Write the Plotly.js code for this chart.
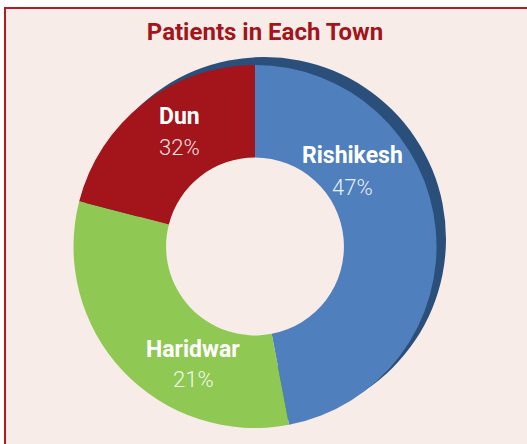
<!DOCTYPE html>
<html>
<head>
<meta charset="utf-8">
<script src="https://cdn.plot.ly/plotly-3.0.1.min.js"></script>
<style>
  html, body { margin: 0; padding: 0; background: #ffffff; }
  #chart { width: 527px; height: 444px; }
</style>
</head>
<body>
<div id="chart"></div>
<script>
// ---- Data ----
const towns = ['Rishikesh', 'Haridwar', 'Dun'];
// slice sizes as drawn in the picture (percent of the ring)
const sliceShare = [47, 32, 21];
// percentages printed on the chart
const printedPct = ['47%', '21%', '32%'];
const sliceColors = ['#4f80bd', '#8fc953', '#a3141b'];
const shadowShare = [100];

// ---- helpers (pixel -> paper, margins are zero) ----
const W = 527, H = 444;
const px = x => x / W;
const py = y => 1 - y / H;

// label anchor points in pixels for each town (name / percentage)
const labelPos = {
  'Rishikesh': [352, 156, 187],
  'Haridwar':  [193, 349, 379],
  'Dun':       [179, 117, 147]
};

const shadow = {
  type: 'pie',
  values: shadowShare,
  labels: ['shadow'],
  marker: { colors: ['#2b4f7b'], line: { width: 0 } },
  hole: 0.7,
  sort: false,
  textinfo: 'none',
  hoverinfo: 'skip',
  showlegend: false,
  domain: { x: [px(82), px(446)], y: [py(421), py(57)] }
};

const donut = {
  type: 'pie',
  values: sliceShare,
  labels: towns,
  customdata: printedPct,
  marker: { colors: sliceColors, line: { width: 0 } },
  hole: 0.49,
  sort: false,
  direction: 'clockwise',
  rotation: 0,
  textinfo: 'none',
  hovertemplate: '%{label}: %{customdata}<extra></extra>',
  showlegend: false,
  domain: { x: [px(73), px(437)], y: [py(428), py(65)] }
};

const annotations = [];
towns.forEach((t, i) => {
  const p = labelPos[t];
  annotations.push({
    xref: 'paper', yref: 'paper', x: px(p[0]), y: py(p[1]),
    xanchor: 'center', yanchor: 'middle', showarrow: false,
    text: '<b>' + t + '</b>',
    font: { family: 'Roboto, sans-serif', size: 23, color: '#ffffff' }
  });
  annotations.push({
    xref: 'paper', yref: 'paper', x: px(p[0]), y: py(p[2]),
    xanchor: 'center', yanchor: 'middle', showarrow: false,
    text: printedPct[i],
    font: { family: 'Roboto, sans-serif', size: 22, weight: 300, color: 'rgba(255,255,255,0.9)' }
  });
});

const layout = {
  width: W, height: H,
  margin: { l: 0, r: 0, t: 0, b: 0 },
  paper_bgcolor: '#ffffff',
  showlegend: false,
  title: {
    text: '<b>Patients in Each Town</b>',
    font: { family: 'Roboto, sans-serif', size: 24, color: '#a3141b' },
    x: 265 / W, xanchor: 'center', xref: 'paper',
    y: 1 - 32 / H, yanchor: 'middle', yref: 'container'
  },
  shapes: [{
    type: 'rect', xref: 'paper', yref: 'paper', layer: 'below',
    x0: px(5), x1: 1.05, y0: -0.05, y1: py(8),
    fillcolor: '#f7ece7',
    line: { color: '#b01e24', width: 2 }
  }],
  annotations: annotations
};

Plotly.newPlot('chart', [shadow, donut], layout, { displayModeBar: false, staticPlot: true });
</script>
</body>
</html>
